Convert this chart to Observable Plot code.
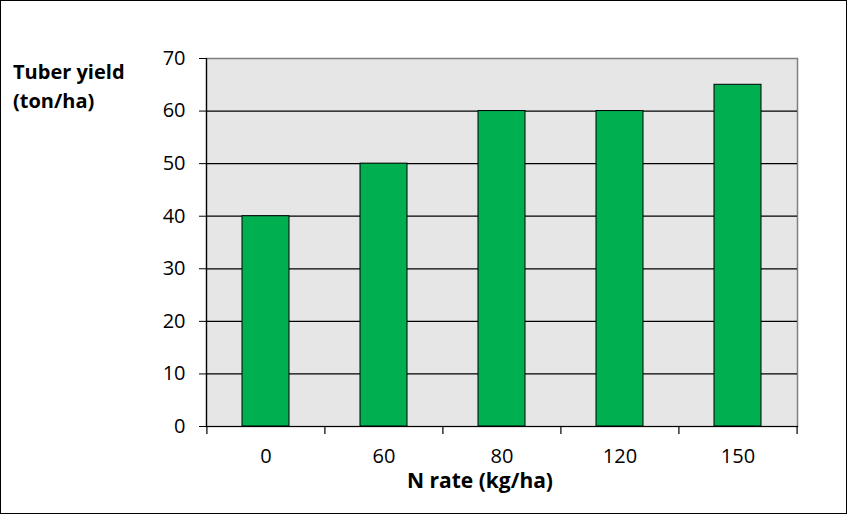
<!DOCTYPE html>
<html>
<head>
<meta charset="utf-8">
<script src="https://cdn.jsdelivr.net/npm/d3@7"></script>
<script src="https://cdn.jsdelivr.net/npm/@observablehq/plot@0.6"></script>
<style>
  html, body { margin: 0; padding: 0; background: #fff; }
  #wrap { position: relative; width: 847px; height: 514px; font-family: "Open Sans", sans-serif; overflow: hidden; }
  #frame { position: absolute; left: 0; top: 0; width: 847px; height: 514px; box-sizing: border-box; border: 1px solid #000; pointer-events: none; }
  .ylab { position: absolute; left: 13px; top: 57px; font-weight: bold; font-size: 20px; line-height: 29px; color: #000; }
  .xlab { position: absolute; left: 380px; width: 200px; top: 470px; text-align: center; font-weight: bold; font-size: 21px; line-height: 21px; color: #000; }
  svg { position: absolute; left: 0; top: 0; }
</style>
</head>
<body>
<div id="wrap">
  <div class="ylab">Tuber yield<br>(ton/ha)</div>
  <div class="xlab">N rate (kg/ha)</div>
  <div id="frame"></div>
</div>
<script>
const categories = ["0", "60", "80", "120", "150"];
const yields = [40, 50, 60, 60, 65];
const yTicks = [0, 10, 20, 30, 40, 50, 60, 70];
const gridValues = [10, 20, 30, 40, 50, 60];

const data = categories.map((c, i) => ({rate: c, yield: yields[i]}));

const W = 847, H = 514, ML = 206, MR = 50, MT = 58, MB = 88;
const step = (W - ML - MR) / categories.length;

const chart = Plot.plot({
  width: W,
  height: H,
  marginLeft: ML,
  marginRight: MR,
  marginTop: MT,
  marginBottom: MB,
  style: {fontFamily: "Open Sans, sans-serif", fontSize: "20px", color: "#000", background: "transparent"},
  x: {type: "band", domain: categories, paddingInner: 0.6, paddingOuter: 0.3},
  y: {domain: [0, 70]},
  marks: [
    Plot.frame({fill: "#e6e6e6", stroke: "#808080", strokeWidth: 1.5}),
    Plot.ruleY(gridValues, {stroke: "#000", strokeWidth: 1.2}),
    Plot.barY(data, {x: "rate", y: "yield", fill: "#00b050", stroke: "#000", strokeWidth: 1}),
    Plot.frame({anchor: "left", stroke: "#000", strokeWidth: 1.2}),
    Plot.frame({anchor: "bottom", stroke: "#000", strokeWidth: 1.2}),
    Plot.ruleX(categories, {x: d => d, y1: 0, y2: 0, insetBottom: -8, dx: -step / 2, stroke: "#000", strokeWidth: 1.2}),
    Plot.ruleX(categories.slice(-1), {x: d => d, y1: 0, y2: 0, insetBottom: -8, dx: step / 2, stroke: "#000", strokeWidth: 1.2}),
    Plot.axisY(yTicks, {tickSize: 7, tickPadding: 14, label: null, stroke: "#000", fill: "#000", fontSize: 20}),
    Plot.axisX({tickSize: 0, tickPadding: 22, label: null, fill: "#000", fontSize: 20})
  ]
});
document.getElementById("wrap").prepend(chart);
</script>
</body>
</html>
